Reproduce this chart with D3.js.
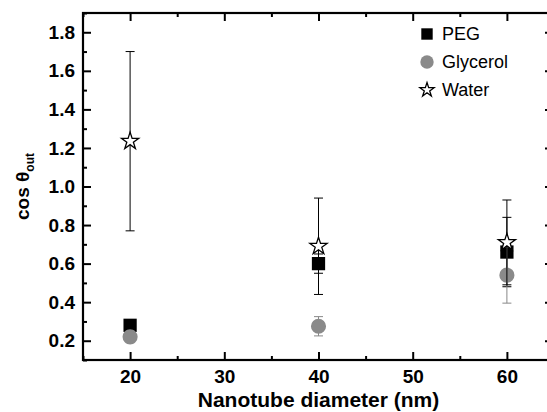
<!DOCTYPE html>
<html>
<head>
<meta charset="utf-8">
<script src="https://cdn.jsdelivr.net/npm/d3@7"></script>
<style>
  html, body { margin: 0; padding: 0; background: #fff; }
  svg { display: block; font-family: "Liberation Sans", Arial, sans-serif; }
</style>
</head>
<body>
<div id="plot"></div>
<script>
// values
const diameters = [20, 40, 60];
const pegValues = [0.28, 0.60, 0.66];
const pegErrors = [0.02, 0.05, 0.18];
const glycerolValues = [0.22, 0.275, 0.54];
const glycerolErrors = [0.03, 0.05, 0.145];
const waterValues = [1.235, 0.69, 0.71];
const waterErrors = [0.465, 0.25, 0.22];

const xMajor = [20, 30, 40, 50, 60];
const xMinor = [15, 25, 35, 45, 55, 65];
const yMajor = [0.2, 0.4, 0.6, 0.8, 1.0, 1.2, 1.4, 1.6, 1.8];
const yMinor = [0.1, 0.3, 0.5, 0.7, 0.9, 1.1, 1.3, 1.5, 1.7, 1.9];

const seriesNames = ['PEG', 'Glycerol', 'Water'];

const width = 547, height = 412;
const margin = {top: 13, right: -7, bottom: 52, left: 83};

const svg = d3.select('#plot').append('svg')
    .attr('width', width)
    .attr('height', height);

const x = d3.scaleLinear().domain([15, 65]).range([margin.left, width - margin.right]);
const y = d3.scaleLinear().domain([0.1, 1.9]).range([height - margin.bottom, margin.top]);

const series = [
    {name: 'PEG', values: pegValues, errors: pegErrors, color: '#000', shape: 'square'},
    {name: 'Glycerol', values: glycerolValues, errors: glycerolErrors, color: '#888', shape: 'circle'},
    {name: 'Water', values: waterValues, errors: waterErrors, color: '#000', shape: 'star'}
];

function symbolFor(shape, big) {
    if (shape === 'square') return d3.symbol().type(d3.symbolSquare).size(big ? 176 : 130)();
    if (shape === 'circle') return d3.symbol().type(d3.symbolCircle).size(big ? 180 : 140)();
    return d3.symbol().type(d3.symbolStar).size(big ? 92 : 62)();
}

function styleMarker(sel, s) {
    if (s.shape === 'star') {
        sel.attr('fill', '#fff').attr('stroke', '#000').attr('stroke-width', 1.3);
    } else {
        sel.attr('fill', s.shape === 'circle' ? '#8a8a8a' : '#000');
    }
}

// points with error bars, drawn series by series
series.forEach(s => {
    const g = svg.append('g');
    diameters.forEach((d, i) => {
        const cx = x(d);
        const hi = y(s.values[i] + s.errors[i]);
        const lo = y(s.values[i] - s.errors[i]);
        g.append('line').attr('x1', cx).attr('x2', cx).attr('y1', hi).attr('y2', lo)
            .attr('stroke', s.color).attr('stroke-width', 1);
        [hi, lo].forEach(cy => {
            g.append('line').attr('x1', cx - 4.5).attr('x2', cx + 4.5).attr('y1', cy).attr('y2', cy)
                .attr('stroke', s.color).attr('stroke-width', 1);
        });
    });
    g.selectAll('path.pt')
        .data(s.values)
        .enter()
        .append('path')
        .attr('class', 'pt')
        .attr('d', symbolFor(s.shape, true))
        .attr('transform', (v, i) => `translate(${x(diameters[i])},${y(v)})`)
        .call(sel => styleMarker(sel, s));
});

// axes: ticks point inward on all four sides
const tickFont = sel => sel.selectAll('text')
    .attr('font-size', '19px')
    .attr('font-weight', 'bold')
    .attr('fill', '#000');

const bottomAxis = svg.append('g')
    .attr('transform', `translate(0,${height - margin.bottom})`)
    .call(d3.axisBottom(x).tickValues(xMajor).tickFormat(d3.format('d')).tickSize(-8).tickSizeOuter(0).tickPadding(10));
bottomAxis.call(tickFont);
svg.append('g')
    .attr('transform', `translate(0,${height - margin.bottom})`)
    .call(d3.axisBottom(x).tickValues(xMinor).tickFormat('').tickSize(-4).tickSizeOuter(0));

const leftAxis = svg.append('g')
    .attr('transform', `translate(${margin.left},0)`)
    .call(d3.axisLeft(y).tickValues(yMajor).tickFormat(d3.format('.1f')).tickSize(-8).tickSizeOuter(0).tickPadding(8));
leftAxis.call(tickFont);
svg.append('g')
    .attr('transform', `translate(${margin.left},0)`)
    .call(d3.axisLeft(y).tickValues(yMinor).tickFormat('').tickSize(-4).tickSizeOuter(0));

svg.append('g')
    .attr('transform', `translate(0,${margin.top})`)
    .call(d3.axisTop(x).tickValues(xMajor).tickFormat('').tickSize(-8).tickSizeOuter(0));
svg.append('g')
    .attr('transform', `translate(0,${margin.top})`)
    .call(d3.axisTop(x).tickValues(xMinor).tickFormat('').tickSize(-4).tickSizeOuter(0));

svg.append('g')
    .attr('transform', `translate(${width - margin.right},0)`)
    .call(d3.axisRight(y).tickValues(yMajor).tickFormat('').tickSize(-9).tickSizeOuter(0));
svg.append('g')
    .attr('transform', `translate(${width - margin.right},0)`)
    .call(d3.axisRight(y).tickValues(yMinor).tickFormat('').tickSize(-4).tickSizeOuter(0));

svg.selectAll('.tick line').attr('stroke', '#000').attr('stroke-width', 2);
svg.selectAll('.domain').remove();

// frame
svg.append('rect')
    .attr('x', margin.left)
    .attr('y', margin.top)
    .attr('width', x.range()[1] - margin.left)
    .attr('height', y.range()[0] - margin.top)
    .attr('fill', 'none')
    .attr('stroke', '#000')
    .attr('stroke-width', 2.2);

// axis titles
svg.append('text')
    .attr('x', (margin.left + x.range()[1]) / 2)
    .attr('y', 407)
    .attr('text-anchor', 'middle')
    .attr('font-size', '21px')
    .attr('font-weight', 'bold')
    .text('Nanotube diameter (nm)');

const yTitle = svg.append('text')
    .attr('transform', `translate(29,${(margin.top + y.range()[0]) / 2}) rotate(-90)`)
    .attr('text-anchor', 'middle')
    .attr('font-size', '19px')
    .attr('font-weight', 'bold');
yTitle.append('tspan').text('cos θ');
yTitle.append('tspan').attr('font-size', '12px').attr('dy', 5).text('out');

// legend
const legend = svg.append('g').attr('transform', 'translate(427,34)');
series.forEach((s, i) => {
    const row = legend.append('g').attr('transform', `translate(0,${i * 28})`);
    row.append('path')
        .attr('d', symbolFor(s.shape, false))
        .call(sel => styleMarker(sel, s));
    row.append('text')
        .attr('x', 15)
        .attr('y', 6)
        .attr('font-size', '18px')
        .text(seriesNames[i]);
});
</script>
</body>
</html>
